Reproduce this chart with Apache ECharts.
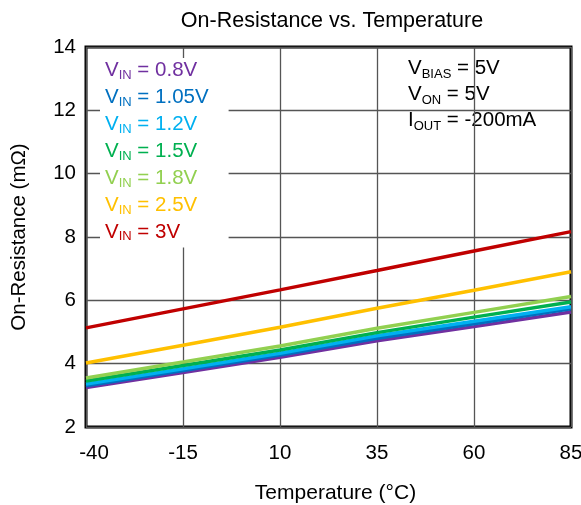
<!DOCTYPE html>
<html>
<head>
<meta charset="utf-8">
<script src="https://cdn.jsdelivr.net/npm/echarts@6/dist/echarts.min.js"></script>
<style>html,body{margin:0;padding:0;background:#fff;}#c{width:581px;height:505px;}</style>
</head>
<body>
<div id="c"></div>
<script>
// Data
const temperatures = ['-40', '-15', '10', '35', '60', '85'];
const vin08  = [3.25, 3.72, 4.20, 4.72, 5.17, 5.63];
const vin105 = [3.30, 3.78, 4.27, 4.80, 5.26, 5.73];
const vin12  = [3.36, 3.84, 4.33, 4.88, 5.34, 5.80];
const vin15  = [3.45, 3.94, 4.43, 4.98, 5.47, 5.95];
const vin18  = [3.55, 4.05, 4.56, 5.12, 5.62, 6.12];
const vin25  = [4.02, 4.58, 5.15, 5.75, 6.32, 6.90];
const vin3   = [5.13, 5.73, 6.33, 6.94, 7.56, 8.17];
const vinLabels = ['0.8V', '1.05V', '1.2V', '1.5V', '1.8V', '2.5V', '3V'];
const yTicks = [2, 4, 6, 8, 10, 12, 14];

const colors = ['#7030A0', '#0070C0', '#00B0F0', '#00B050', '#92D050', '#FFC000', '#C00000'];
const seriesData = [vin08, vin105, vin12, vin15, vin18, vin25, vin3];
const FONT = '"Liberation Sans", Arial, sans-serif';

const names = vinLabels.map(v => 'VIN = ' + v);
const rich = {};
colors.forEach((c, i) => {
  rich['v' + i] = { color: c, fontSize: 20.5, fontFamily: FONT, lineHeight: 23 };
  rich['s' + i] = { color: c, fontSize: 13, fontFamily: FONT, lineHeight: 12, verticalAlign: 'bottom' };
});

const chart = echarts.init(document.getElementById('c'));
chart.setOption({
  animation: false,
  backgroundColor: '#fff',
  title: {
    text: 'On-Resistance vs. Temperature',
    left: 327, textAlign: 'center', top: 5,
    textStyle: { fontFamily: FONT, fontSize: 21.5, fontWeight: 'normal', color: '#000' }
  },
  grid: {
    left: 86, right: 10, top: 47, bottom: 78,
    outerBoundsMode: 'none', containLabel: false,
    show: true, borderColor: '#000', borderWidth: 3, backgroundColor: 'transparent'
  },
  legend: {
    orient: 'vertical', left: 100, top: 58,
    data: names,
    icon: 'none', itemWidth: 0, itemHeight: 10, itemGap: 4.9,
    backgroundColor: '#fff', padding: [2, 20, 4, 0],
    selectedMode: false,
    formatter: function (name) {
      const i = names.indexOf(name);
      return '{v' + i + '|V}{s' + i + '|IN}{v' + i + '| = ' + vinLabels[i] + '}';
    },
    textStyle: { rich: rich, fontFamily: FONT, fontSize: 20.5 },
    z: 10
  },
  xAxis: {
    type: 'category', data: temperatures, boundaryGap: false,
    name: 'Temperature (°C)', nameLocation: 'middle', nameGap: 56,
    nameTextStyle: { fontFamily: FONT, fontSize: 21, color: '#000', padding: [0, 0, 0, 14] },
    axisLine: { show: false }, axisTick: { show: false },
    axisLabel: {
      fontFamily: FONT, fontSize: 20.5, color: '#000', margin: 16,
      formatter: function (v, idx) { return idx === 0 ? '{f|' + v + '}' : v; },
      rich: { f: { fontFamily: FONT, fontSize: 20.5, color: '#000', padding: [0, 0, 0, 16] } }
    },
    splitLine: { show: true, lineStyle: { color: '#555', width: 1.3 } }
  },
  yAxis: {
    type: 'value', min: yTicks[0], max: yTicks[yTicks.length - 1], interval: 2,
    name: 'On-Resistance (mΩ)', nameLocation: 'middle', nameGap: 56,
    nameTextStyle: { fontFamily: FONT, fontSize: 20.5, color: '#000' },
    axisLine: { show: false }, axisTick: { show: false },
    axisLabel: { fontFamily: FONT, fontSize: 20.5, color: '#000', margin: 10, padding: [3, 0, 0, 0] },
    splitLine: { show: true, lineStyle: { color: '#555', width: 1.3 } }
  },
  graphic: [{
    type: 'group', left: 400, top: 55, z: 10,
    children: [
      { type: 'rect', shape: { x: 0, y: 0, width: 160, height: 80 }, style: { fill: '#fff' } },
      {
        type: 'text', x: 8, y: 0,
        style: {
          text: '{a|V}{b|BIAS}{a| = 5V}\n{a|V}{b|ON}{a| = 5V}\n{a|I}{b|OUT}{a| = -200mA}',
          rich: {
            a: { fontSize: 20.5, fontFamily: FONT, fill: '#000', lineHeight: 26 },
            b: { fontSize: 13, fontFamily: FONT, fill: '#000', lineHeight: 13, verticalAlign: 'bottom' }
          }
        }
      }
    ]
  }],
  series: seriesData.map((d, i) => ({
    name: names[i], type: 'line', data: d, symbol: 'none',
    lineStyle: { color: colors[i], width: 3.5 }, itemStyle: { color: colors[i] },
    z: 2
  }))
});
</script>
</body>
</html>
